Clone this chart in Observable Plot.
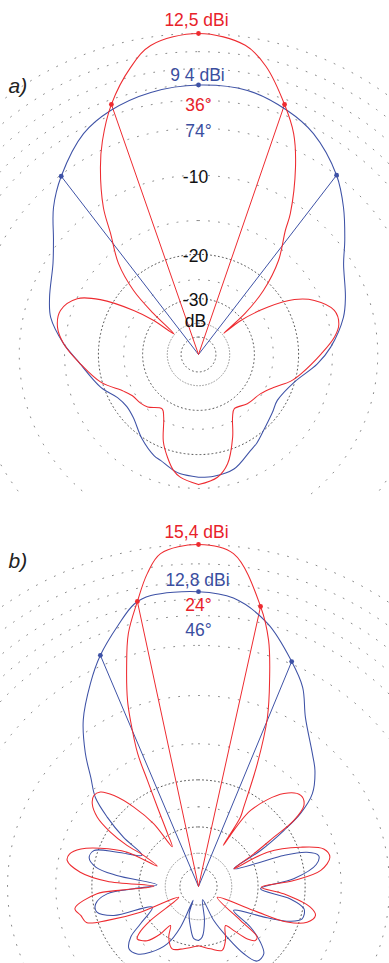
<!DOCTYPE html>
<html><head><meta charset="utf-8">
<script src="https://cdn.jsdelivr.net/npm/d3@7"></script>
<script src="https://cdn.jsdelivr.net/npm/@observablehq/plot@0.6"></script>
<style>
body{margin:0;background:#fff;}
#chart{width:389px;}
#chart svg{display:block;overflow:hidden;}
</style></head><body><div id="chart"></div>
<script>
// ---------- DATA (angle in degrees clockwise from up, gain in dB relative to panel maximum) ----------
// Panel a
const aRedAng = [-180,-171.7,-167.8,-163.2,-158,-151,-146.2,-136,-130,-122,-116,-106,-94.5,-85.5,-79,-72.3,-65.3,-60.8,-55.8,-52.7,-50,-47.7,-45.4,-41.3,-36,-32.9,-27.7,-24.2,-19.2,-13.3,-8.8,0,8.6,13.2,19,23.3,27.4,33.1,35,40.4,45.4,48.6,50,51.2,55.6,60.2,65,72,77.7,82.7,89.7,100.7,106.1,113.4,122.2,135.2,146.7,151.5,157.6,165.1,171.2,180];
const aRedDb  = [-15.5,-16.3,-17.1,-18.8,-21.1,-25.7,-27.3,-25.4,-24.8,-24.3,-23.1,-19.8,-17.1,-14.85,-13.8,-13.65,-15.05,-18.0,-24.2,-29.9,-39.5,-28.5,-21.6,-16.7,-13.1,-10.4,-7.2,-5.4,-3.3,-1.45,-0.45,0,-0.45,-1.4,-3.33,-4.95,-7.22,-11.1,-12.9,-16.4,-21.6,-28.2,-39,-30.5,-23.1,-18.3,-15.8,-13.9,-13.8,-14.6,-16.5,-19.3,-20.7,-23.3,-25.3,-26.3,-27.4,-25.8,-21.9,-17.9,-16.3,-15.5];
const aBlueAng = [-180,-171.4,-167.8,-160.3,-156.4,-146,-134,-126,-118,-108.6,-92.8,-85.3,-76,-69,-58,-51.8,-44.6,-37.6,-27.5,-19.8,-10.3,0,10.5,20,27.5,37.6,44.6,52,58,68.7,75.6,86.8,94.5,106.2,120.2,128,139.5,146.7,151.6,162.8,172.8,180];
const aBlueDb  = [-16.5,-16.8,-17.1,-18.0,-18.3,-19.8,-21.7,-22.1,-21.5,-19.5,-16.7,-14.8,-12.8,-12.0,-10.75,-9.5,-7.57,-6.1,-4.36,-3.66,-3.2,-3.0,-3.06,-3.64,-4.36,-6.0,-7.57,-9.4,-10.8,-12.2,-13.1,-15.2,-17.0,-20.1,-21.6,-21.1,-20.0,-19.0,-18.5,-16.9,-16.5,-16.5];
const aRedMarkAng = [-19.2, 0, 19];
const aRedMarkDb  = [-3.3, 0, -3.33];
const aBlueMarkAng = [-37.6, 0, 37.6];
const aBlueMarkDb  = [-6.1, -3.0, -6.0];
const aTexts = ["12,5 dBi", "9 4 dBi", "36°", "74°"];

// Panel b
const bRedAng = [-180,-166.7,-157.1,-149.6,-144.3,-141.2,-136.5,-130.5,-128.4,-125.3,-118.5,-113.9,-110.4,-107.8,-103.8,-100.1,-94.1,-92.8,-89.6,-86.7,-83.1,-78.8,-75.9,-72.3,-68.7,-64.3,-63.8,-60.5,-60.1,-58.3,-55.6,-52.1,-49,-46.1,-42.9,-39.2,-35.5,-33.4,-30.3,-27.4,-25.7,-24.6,-22.3,-20.9,-18.2,-15.5,-12.1,-9.3,-6.5,0,6,12.5,15.9,19,22.2,25.6,29.7,31.2,31,34.4,42.6,48.3,52.4,55.3,56.8,59.4,63.4,63.5,68.9,73.3,77.4,82.5,86.4,90.6,94.9,100.5,103.9,108.2,111.9,113.5,119.8,129,130.8,133.5,137,141.3,145.3,153.4,159.7,169.1,180];
const bRedDb  = [-30.1,-28.8,-27.8,-30.2,-33.7,-29.6,-26.1,-24.8,-25.8,-30.1,-46.7,-28.9,-21.6,-18.3,-17.8,-17.2,-20.8,-25.0,-34.9,-22.6,-18.1,-16.1,-16.2,-17.5,-20.2,-25.1,-34.4,-29.1,-24.4,-20.5,-17.6,-16.0,-15.5,-15.8,-17.4,-20.7,-25.6,-33.8,-29.5,-23.1,-18.3,-14.6,-11.1,-9.3,-6.8,-4.54,-2.74,-1.3,-0.35,0,-0.37,-3.02,-4.98,-7.7,-10.8,-15.8,-22.7,-24.8,-33.7,-22.5,-17.1,-15.7,-16.2,-18.6,-22.9,-28.7,-37,-25.6,-19.6,-16.5,-16.0,-17.5,-21.9,-29.1,-23.8,-18.9,-17.9,-18.8,-21.9,-29.8,-47.4,-31.6,-25.5,-25.3,-26.8,-30.9,-33.9,-29.8,-27.7,-28.9,-30.1];
const bBlueAng = [-180,-174.9,-168.9,-161.2,-158.5,-156.1,-151.4,-143.8,-137.7,-131.8,-126.7,-122.7,-114.1,-108.9,-104.2,-99.5,-94.6,-92,-87.6,-82.3,-79.4,-75.3,-71,-67.1,-61,-56.8,-52.8,-49.2,-44.7,-40.3,-34.7,-28,-23,-17.1,-12.8,-9.3,0,6.9,14.7,22.5,27.6,32.3,40.6,45.2,50.8,54.4,56.7,59.9,63.4,68.6,70,72.5,75.6,79.4,85.4,92.1,97.6,102,107.3,110.7,114.5,124.2,128,131.9,135.9,141.8,146,150.5,155.8,163,170,175.8,180];
const bBlueDb  = [-31.7,-32.2,-36.2,-42.4,-54,-35,-28.4,-24.6,-22.7,-22.3,-24,-27.5,-32.8,-23.0,-20.3,-20.4,-22.6,-28.6,-36.2,-24.4,-20.4,-19.0,-19.4,-23.3,-28.6,-23,-18.8,-15.8,-13.8,-11.5,-9.0,-6.8,-5.3,-3.85,-2.85,-2.55,-2.55,-2.8,-3.93,-5.83,-7.2,-9.2,-11.5,-12.6,-14.5,-17.2,-20.7,-26.8,-37,-28.1,-22.8,-18.9,-17.4,-18,-21.9,-29.3,-22.5,-19.8,-19.7,-21.4,-25.9,-35.8,-28.2,-24.3,-22.2,-22.0,-24.7,-30.4,-38,-55,-39.4,-32.8,-31.7];
const bRedMarkAng = [-12.1, 0, 12.5];
const bRedMarkDb  = [-2.74, 0, -3.02];
const bBlueMarkAng = [-23, 0, 22.5];
const bBlueMarkDb  = [-5.3, -2.55, -5.83];
const bTexts = ["15,4 dBi", "12,8 dBi", "24°", "46°"];

// Grid
const ringDb = [0, -1, -2, -3, -4, -6, -10, -15, -20, -25, -30, -40, -50];
const scaleLabels = ["-10", "-20", "-30"];
const scaleLabelDb = [-10, -20, -30];
const unitLabel = "dB";
const panelTags = ["a)", "b)"];

// ---------- RENDERING ----------
const FONT = '"Liberation Sans", Arial, Helvetica, sans-serif';
const RED = "#ee2b30", BLUE = "#3e52a6", RED_T = "#e8222a", BLUE_T = "#3a4ea0";
const W = 389;
const rOf = db => Math.pow(0.89, -db / 2);   // ARRL log-periodic radial scale
const polar = (a, db) => { const r = rOf(db), t = a * Math.PI / 180; return {x: r * Math.sin(t), y: r * Math.cos(t)}; };
const pts = (angs, dbs) => angs.map((a, i) => polar(a, dbs[i]));

function ringStyle(db) {
  if (db === -20 || db === -30 || db === -50) return {stroke: "#555", dash: "1 3"};
  if (db === -40) return {stroke: "#999", dash: "1 2"};
  return {stroke: "#8a8a8a", dash: "1 9"};
}

function panel(cfg) {
  const {H, cx, cy, R, red, blue, redMark, blueMark, texts, textDy, showScale, tag, tagDy} = cfg;
  const marks = [];
  for (const lv of ringDb) {
    const st = ringStyle(lv);
    const ring = d3.range(0, 361, 1).map(a => polar(a, lv));
    marks.push(Plot.line(ring, {x: "x", y: "y", stroke: st.stroke, strokeWidth: 1, strokeDasharray: st.dash, strokeLinecap: "round"}));
  }
  const redM = pts(redMark[0], redMark[1]);
  const blueM = pts(blueMark[0], blueMark[1]);
  const redSide = [redM[0], redM[2]], blueSide = [blueM[0], blueM[2]];
  marks.push(
    Plot.link(blueSide, {x1: () => 0, y1: () => 0, x2: "x", y2: "y", stroke: BLUE, strokeWidth: 1}),
    Plot.link(redSide, {x1: () => 0, y1: () => 0, x2: "x", y2: "y", stroke: RED, strokeWidth: 1}),
    Plot.line(pts(blue[0], blue[1]), {x: "x", y: "y", stroke: BLUE, strokeWidth: 1.05, curve: "catmull-rom"}),
    Plot.line(pts(red[0], red[1]), {x: "x", y: "y", stroke: RED, strokeWidth: 1.05, curve: "catmull-rom"}),
    Plot.dot(blueM, {x: "x", y: "y", r: 2.4, fill: BLUE, stroke: null}),
    Plot.dot(redM, {x: "x", y: "y", r: 2.4, fill: RED, stroke: null})
  );
  const tstyle = {fontFamily: FONT, fontSize: 17.5, textAnchor: "middle"};
  const redPeak = redM[1], bluePeak = blueM[1];
  marks.push(
    Plot.text([redPeak], {x: "x", y: "y", text: () => texts[0], fill: RED_T, dy: textDy[0], dx: -2, ...tstyle}),
    Plot.text([bluePeak], {x: "x", y: "y", text: () => texts[1], fill: BLUE_T, dy: textDy[1], dx: -1, ...tstyle}),
    Plot.text([bluePeak], {x: "x", y: "y", text: () => texts[2], fill: RED_T, dy: textDy[2], ...tstyle}),
    Plot.text([bluePeak], {x: "x", y: "y", text: () => texts[3], fill: BLUE_T, dy: textDy[3], ...tstyle})
  );
  if (showScale) {
    const sl = scaleLabelDb.map((d, i) => ({...polar(0, d), t: scaleLabels[i]}));
    marks.push(
      Plot.text(sl, {x: "x", y: "y", text: "t", fill: "#111", dy: 2, dx: -3, ...tstyle}),
      Plot.text([sl[2]], {x: "x", y: "y", text: () => unitLabel, fill: "#111", dy: 23, dx: -3, ...tstyle})
    );
  }
  marks.push(Plot.text([tag], {frameAnchor: "top-left", text: d => d, dx: 8, dy: tagDy, textAnchor: "start",
    fontFamily: FONT, fontSize: 21, fontStyle: "italic", fill: "#222"}));
  return Plot.plot({
    width: W, height: H, margin: 0,
    x: {domain: [-cx / R, (W - cx) / R], axis: null},
    y: {domain: [-(H - cy) / R, cy / R], axis: null},
    style: {background: "#fff", overflow: "hidden"},
    marks
  });
}

const chart = document.getElementById("chart");
chart.append(panel({
  H: 495, cx: 198, cy: 354, R: 321,
  red: [aRedAng, aRedDb], blue: [aBlueAng, aBlueDb],
  redMark: [aRedMarkAng, aRedMarkDb], blueMark: [aBlueMarkAng, aBlueMarkDb],
  texts: aTexts, textDy: [-13, -10, 20, 46], showScale: true, tag: panelTags[0], tagDy: 78
}));
chart.append(panel({
  H: 468, cx: 198, cy: 391, R: 342,
  red: [bRedAng, bRedDb], blue: [bBlueAng, bBlueDb],
  redMark: [bRedMarkAng, bRedMarkDb], blueMark: [bBlueMarkAng, bBlueMarkDb],
  texts: bTexts, textDy: [-12, -11, 14, 39], showScale: false, tag: panelTags[1], tagDy: 58
}));
</script></body></html>
